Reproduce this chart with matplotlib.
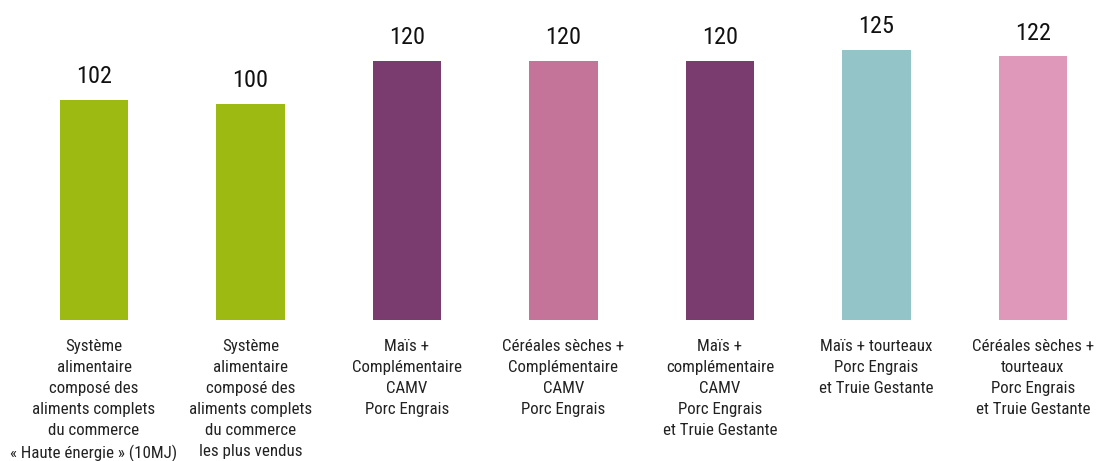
import matplotlib
matplotlib.use("Agg")
import matplotlib.pyplot as plt
from matplotlib import font_manager as fm

categories = [
    "Système\nalimentaire\ncomposé des\naliments complets\ndu commerce\n« Haute énergie » (10MJ)",
    "Système\nalimentaire\ncomposé des\naliments complets\ndu commerce\nles plus vendus",
    "Maïs +\nComplémentaire\nCAMV\nPorc Engrais",
    "Céréales sèches +\nComplémentaire\nCAMV\nPorc Engrais",
    "Maïs +\ncomplémentaire\nCAMV\nPorc Engrais\net Truie Gestante",
    "Maïs + tourteaux\nPorc Engrais\net Truie Gestante",
    "Céréales sèches +\ntourteaux\nPorc Engrais\net Truie Gestante",
]
values = [102, 100, 120, 120, 120, 125, 122]
colors = ["#9CBA12", "#9CBA12", "#7A3C6E", "#C47399", "#7A3C6E", "#93C4C8", "#DF98BA"]

# condensed sans if one is around, else plain Liberation Sans
names = {f.name for f in fm.fontManager.ttflist}
fam = "Liberation Sans"
for cand in ["Roboto Condensed", "Archivo Narrow", "Liberation Sans Narrow", "PT Sans Narrow"]:
    if cand in names:
        fam = cand
        break
plt.rcParams["font.family"] = [fam, "DejaVu Sans"]

fig = plt.figure(figsize=(10.97, 4.61), dpi=100)
ax = fig.add_axes([0.01436, 0.306, 0.9986, 0.609])

x = list(range(len(values)))
ax.bar(x, values, width=0.435, color=colors)

for i, v in enumerate(values):
    ax.annotate(str(v), xy=(i, v), xytext=(0, 8.5), textcoords="offset points",
                ha="center", va="bottom", fontsize=17.5, color="#111111")
    ax.annotate(categories[i], xy=(i, 0), xytext=(0, -14), textcoords="offset points",
                ha="center", va="top", fontsize=12.2, linespacing=1.5, color="#222222")

ax.set_xlim(-0.5, 6.5)
ax.set_ylim(0, 130)
ax.axis("off")

fig.savefig("out.png", dpi=100)
